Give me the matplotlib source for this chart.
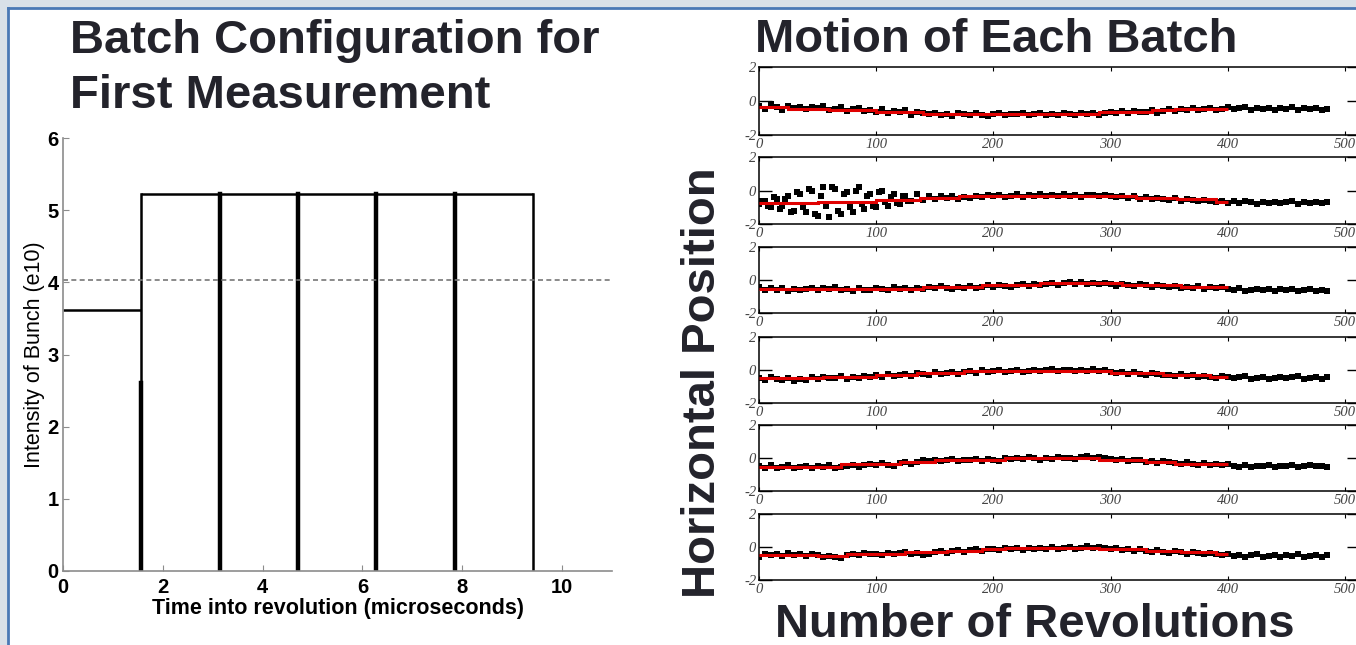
import matplotlib
matplotlib.use("Agg")
import matplotlib.pyplot as plt
from matplotlib import font_manager
from matplotlib.patches import Rectangle
from matplotlib.lines import Line2D

# batch layout for the first measurement
batch_start = [0, 1.57, 3.14, 4.71, 6.28, 7.85]
batch_width = 1.57
batch_intensity = [3.62, 5.23, 5.23, 5.23, 5.23, 5.23]
threshold = 4.03
left_xticks = [0, 2, 4, 6, 8, 10]
left_yticks = [0, 1, 2, 3, 4, 5, 6]

# horizontal position of each batch, sampled every 5 revolutions
revs = list(range(0, 490, 5))
batch1 = [-0.30, -0.45, -0.20, -0.38, -0.52, -0.28, -0.41, -0.33, -0.50, -0.36,
          -0.44, -0.30, -0.55, -0.47, -0.38, -0.60, -0.49, -0.42, -0.58, -0.51,
          -0.62, -0.48, -0.70, -0.57, -0.66, -0.52, -0.85, -0.63, -0.71, -0.78,
          -0.68, -0.82, -0.74, -0.88, -0.70, -0.79, -0.84, -0.72, -0.80, -0.86,
          -0.76, -0.69, -0.83, -0.75, -0.79, -0.71, -0.85, -0.77, -0.72, -0.81,
          -0.74, -0.80, -0.70, -0.78, -0.83, -0.73, -0.76, -0.68, -0.82, -0.71,
          -0.64, -0.72, -0.60, -0.69, -0.57, -0.66, -0.62, -0.54, -0.68, -0.58,
          -0.50, -0.61, -0.47, -0.55, -0.43, -0.52, -0.48, -0.41, -0.53, -0.46,
          -0.38, -0.50, -0.44, -0.36, -0.52, -0.42, -0.47, -0.39, -0.55, -0.44,
          -0.49, -0.37, -0.51, -0.43, -0.46, -0.40, -0.53, -0.45]
batch2 = [-0.80, -0.60, -1.00, -0.50, -0.90, -0.30, -1.20, -0.20, -1.30, 0.00,
          -1.50, 0.20, -1.60, 0.10, -1.40, -0.10, -1.30, 0.20, -1.10, -0.20,
          -1.00, 0.00, -0.90, -0.20, -0.80, -0.30, -0.60, -0.20, -0.55, -0.35,
          -0.50, -0.35, -0.45, -0.30, -0.50, -0.38, -0.42, -0.30, -0.40, -0.28,
          -0.35, -0.25, -0.40, -0.30, -0.22, -0.36, -0.28, -0.33, -0.20, -0.30,
          -0.27, -0.35, -0.22, -0.30, -0.25, -0.38, -0.29, -0.24, -0.33, -0.27,
          -0.30, -0.40, -0.35, -0.45, -0.32, -0.48, -0.40, -0.52, -0.43, -0.50,
          -0.55, -0.45, -0.60, -0.50, -0.58, -0.65, -0.55, -0.62, -0.70, -0.60,
          -0.72, -0.65, -0.75, -0.62, -0.70, -0.78, -0.66, -0.73, -0.68, -0.76,
          -0.70, -0.64, -0.78, -0.69, -0.74, -0.66, -0.72, -0.70]
# batch 2 oscillates strongly early on: extra readings in between
batch2_extra_revs = [2.5 + 5 * i for i in range(26)]
batch2_extra = [-0.60, -0.90, -0.40, -1.10, -0.50, -1.30, -0.10, -1.00, 0.10, -1.40,
                -0.30, -0.90, 0.20, -1.20, -0.20, -1.00, 0.00, -0.80, -0.30, -0.90,
                -0.10, -0.70, -0.40, -0.75, -0.30, -0.60]
batch3 = [-0.45, -0.62, -0.50, -0.58, -0.47, -0.65, -0.52, -0.60, -0.55, -0.48,
          -0.63, -0.50, -0.57, -0.45, -0.60, -0.53, -0.66, -0.50, -0.58, -0.62,
          -0.48, -0.56, -0.60, -0.44, -0.55, -0.50, -0.62, -0.47, -0.53, -0.42,
          -0.50, -0.38, -0.48, -0.55, -0.40, -0.46, -0.35, -0.50, -0.42, -0.33,
          -0.40, -0.28, -0.35, -0.42, -0.30, -0.25, -0.36, -0.22, -0.32, -0.27,
          -0.18, -0.28, -0.20, -0.15, -0.25, -0.12, -0.22, -0.18, -0.26, -0.16,
          -0.22, -0.35, -0.25, -0.30, -0.38, -0.27, -0.33, -0.40, -0.30, -0.36,
          -0.44, -0.34, -0.50, -0.40, -0.46, -0.38, -0.52, -0.42, -0.48, -0.40,
          -0.55, -0.60, -0.50, -0.65, -0.58, -0.53, -0.62, -0.56, -0.66, -0.55,
          -0.60, -0.52, -0.64, -0.58, -0.55, -0.68, -0.60, -0.66]
batch4 = [-0.50, -0.60, -0.45, -0.55, -0.62, -0.48, -0.66, -0.52, -0.58, -0.45,
          -0.55, -0.40, -0.50, -0.46, -0.38, -0.52, -0.42, -0.48, -0.36, -0.45,
          -0.32, -0.40, -0.26, -0.35, -0.30, -0.22, -0.36, -0.18, -0.25, -0.30,
          -0.15, -0.24, -0.20, -0.12, -0.26, -0.10, -0.05, -0.16, -0.02, -0.12,
          -0.08, -0.02, -0.14, -0.05, 0.00, -0.10, -0.04, 0.02, -0.09, -0.03,
          0.05, -0.06, -0.01, 0.03, -0.08, 0.00, -0.04, 0.04, -0.07, -0.02,
          -0.12, -0.20, -0.10, -0.26, -0.15, -0.22, -0.30, -0.18, -0.25, -0.32,
          -0.28, -0.35, -0.24, -0.38, -0.30, -0.42, -0.34, -0.40, -0.46, -0.38,
          -0.42, -0.50, -0.44, -0.38, -0.52, -0.46, -0.40, -0.55, -0.48, -0.43,
          -0.50, -0.45, -0.38, -0.52, -0.47, -0.42, -0.55, -0.45]
batch5 = [-0.50, -0.62, -0.45, -0.58, -0.52, -0.40, -0.60, -0.55, -0.48, -0.62,
          -0.50, -0.56, -0.45, -0.60, -0.52, -0.48, -0.40, -0.55, -0.42, -0.36,
          -0.44, -0.32, -0.40, -0.50, -0.30, -0.22, -0.35, -0.26, -0.12, -0.20,
          -0.10, -0.20, -0.14, -0.06, -0.18, -0.10, -0.15, -0.08, -0.20, -0.05,
          -0.12, -0.18, -0.02, -0.08, 0.00, -0.06, 0.04, -0.03, -0.10, 0.02,
          -0.05, 0.06, -0.02, 0.02, -0.06, 0.08, 0.12, -0.02, 0.05, 0.00,
          -0.08, -0.15, -0.05, -0.20, -0.12, -0.10, -0.22, -0.16, -0.28, -0.20,
          -0.26, -0.30, -0.38, -0.22, -0.34, -0.45, -0.30, -0.40, -0.36, -0.42,
          -0.38, -0.46, -0.52, -0.42, -0.55, -0.48, -0.50, -0.44, -0.56, -0.46,
          -0.50, -0.44, -0.52, -0.48, -0.42, -0.50, -0.46, -0.52]
batch6 = [-0.62, -0.40, -0.50, -0.42, -0.55, -0.38, -0.48, -0.44, -0.52, -0.45,
          -0.50, -0.58, -0.55, -0.60, -0.65, -0.50, -0.42, -0.48, -0.38, -0.45,
          -0.40, -0.50, -0.36, -0.44, -0.38, -0.30, -0.42, -0.34, -0.50, -0.40,
          -0.30, -0.22, -0.35, -0.25, -0.18, -0.30, -0.20, -0.12, -0.25, -0.15,
          -0.10, -0.20, -0.05, -0.14, -0.08, -0.18, -0.04, -0.10, -0.06, -0.12,
          -0.02, -0.10, -0.05, 0.00, -0.12, -0.04, 0.05, -0.08, 0.02, -0.06,
          -0.12, -0.05, -0.18, -0.10, -0.22, -0.14, -0.25, -0.30, -0.20, -0.28,
          -0.35, -0.25, -0.32, -0.40, -0.30, -0.38, -0.45, -0.35, -0.42, -0.50,
          -0.45, -0.55, -0.48, -0.60, -0.50, -0.44, -0.58, -0.52, -0.47, -0.60,
          -0.50, -0.55, -0.45, -0.60, -0.52, -0.48, -0.58, -0.50]

# running average (red) over the first 400 revolutions
fit1_edges = [0, 25, 60, 100, 140, 290, 335, 355, 400]
fit1_level = [-0.35, -0.45, -0.55, -0.65, -0.75, -0.65, -0.55, -0.45]
fit2_edges = [0, 50, 100, 137, 171, 322, 357, 390, 400]
fit2_level = [-0.75, -0.66, -0.55, -0.45, -0.34, -0.44, -0.53, -0.67]
fit3_edges = [0, 140, 190, 240, 310, 360, 400]
fit3_level = [-0.55, -0.45, -0.32, -0.20, -0.30, -0.45]
fit4_edges = [0, 55, 100, 135, 175, 300, 345, 385, 400]
fit4_level = [-0.50, -0.42, -0.30, -0.20, -0.06, -0.20, -0.30, -0.42]
fit5_edges = [0, 70, 120, 150, 210, 290, 330, 355, 400]
fit5_level = [-0.52, -0.38, -0.26, -0.12, -0.02, -0.12, -0.26, -0.38]
fit6_edges = [0, 50, 75, 125, 160, 190, 210, 290, 330, 360, 390, 400]
fit6_level = [-0.47, -0.57, -0.43, -0.33, -0.23, -0.13, -0.07, -0.13, -0.23, -0.33, -0.43]

positions = [batch1, batch2, batch3, batch4, batch5, batch6]
fits = [(fit1_edges, fit1_level), (fit2_edges, fit2_level), (fit3_edges, fit3_level),
        (fit4_edges, fit4_level), (fit5_edges, fit5_level), (fit6_edges, fit6_level)]
right_xticks = [0, 100, 200, 300, 400, 500]

# fonts
names = {f.name for f in font_manager.fontManager.ttflist}
head_font = "Liberation Sans Narrow" if "Liberation Sans Narrow" in names else "Liberation Sans"
plt.rcParams["font.family"] = "Liberation Sans"
plt.rcParams["axes.unicode_minus"] = False

W, H = 1356, 645
fig = plt.figure(figsize=(W / 100, H / 100), dpi=100)
fig.patch.set_facecolor("#d9e0e8")


def box(x0, y0, x1, y1):
    # pixel box (top-left origin) -> figure fraction rect
    return [x0 / W, 1 - y1 / H, (x1 - x0) / W, (y1 - y0) / H]


# slide area with blue edge
fig.patches.append(Rectangle((9 / W, 0), 1, 1 - 9 / H, transform=fig.transFigure,
                             facecolor="white", edgecolor="none", zorder=-5))
fig.lines.append(Line2D([8 / W, 1], [1 - 8 / H, 1 - 8 / H], transform=fig.transFigure,
                        color="#4a78b5", lw=2, zorder=-4))
fig.lines.append(Line2D([8 / W, 8 / W], [0, 1 - 8 / H], transform=fig.transFigure,
                        color="#4a78b5", lw=2, zorder=-4))

# ---- left: batch configuration ----
ax = fig.add_axes(box(63, 138, 612, 571))
ax.patch.set_alpha(0)
last = len(batch_start) - 1
for i, (x0, h) in enumerate(zip(batch_start, batch_intensity)):
    x1 = x0 + batch_width
    ax.plot([x0, x1], [h, h], color="black", lw=1.8, solid_capstyle="butt")
    if i == last:
        ax.plot([x1, x1], [0, h], color="black", lw=1.8)
    elif batch_intensity[i + 1] == h:
        ax.plot([x1, x1], [0, h], color="black", lw=3.2)
    else:
        # step up into the next batch: heavy at the base, thin above
        ax.plot([x1, x1], [0, 0.72 * h], color="black", lw=3.2)
        ax.plot([x1, x1], [0, batch_intensity[i + 1]], color="black", lw=1.8)
ax.axhline(threshold, color="#777777", lw=1.2, ls=(0, (3, 2)))
ax.set_xlim(0, 11)
ax.set_ylim(0, 6)
ax.set_xticks(left_xticks)
ax.set_yticks(left_yticks)
for s in ["top", "right"]:
    ax.spines[s].set_visible(False)
for s in ["left", "bottom"]:
    ax.spines[s].set_color("#8c8c8c")
    ax.spines[s].set_linewidth(1.2)
ax.tick_params(direction="in", length=4, color="#8c8c8c", labelsize=14.5, pad=3)
ax.tick_params(axis="x", pad=5)
for t in ax.get_xticklabels() + ax.get_yticklabels():
    t.set_fontweight("bold")
ax.set_xlabel("Time into revolution (microseconds)", fontsize=15.5, fontweight="bold", labelpad=1)
ax.set_ylabel("Intensity of Bunch (e10)", fontsize=15.5, labelpad=2)

fig.text(70 / W, 1 - 53 / H, "Batch Configuration for", fontsize=34, fontweight="bold",
         family=head_font, color="#23232b", va="baseline")
fig.text(70 / W, 1 - 108 / H, "First Measurement", fontsize=34, fontweight="bold",
         family=head_font, color="#23232b", va="baseline")

# ---- right: motion of each batch ----
tops = [67, 157, 247, 337, 425, 514]
bottoms = [135, 224, 313, 403, 491, 580]
for k in range(6):
    a = fig.add_axes(box(759, tops[k], 1359, bottoms[k]))
    a.patch.set_alpha(0)
    a.plot(revs, positions[k], ls="none", marker="s", ms=4.6, color="black", mew=0)
    if k == 1:
        a.plot(batch2_extra_revs, batch2_extra, ls="none", marker="s", ms=4.6,
               color="black", mew=0)
    edges, level = fits[k]
    a.stairs(level, edges, color="#e00000", lw=2.2, baseline=None, zorder=3)
    a.set_xlim(0, 512)
    a.set_ylim(-2, 2)
    a.set_xticks(right_xticks)
    a.set_yticks([-2, 0, 2])
    a.tick_params(axis="x", direction="in", length=3, top=True, width=0.8)
    a.tick_params(axis="y", direction="in", length=9, right=True, width=1)
    a.tick_params(labelsize=10.5, labelcolor="#444444", pad=2)
    for t in a.get_xticklabels() + a.get_yticklabels():
        t.set_family("Liberation Serif")
        t.set_style("italic")
    for s in a.spines.values():
        s.set_linewidth(1.1)

fig.text(755 / W, 1 - 52 / H, "Motion of Each Batch", fontsize=34, fontweight="bold",
         family=head_font, color="#23232b", va="baseline")
fig.text(703 / W, 1 - 383 / H, "Horizontal Position", fontsize=34, fontweight="bold",
         family=head_font, color="#23232b", va="center", ha="center", rotation=90)
fig.text(1035 / W, 1 - 637 / H, "Number of Revolutions", fontsize=34, fontweight="bold",
         family=head_font, color="#23232b", va="baseline", ha="center")

fig.savefig("out.png", dpi=100, facecolor=fig.get_facecolor())
